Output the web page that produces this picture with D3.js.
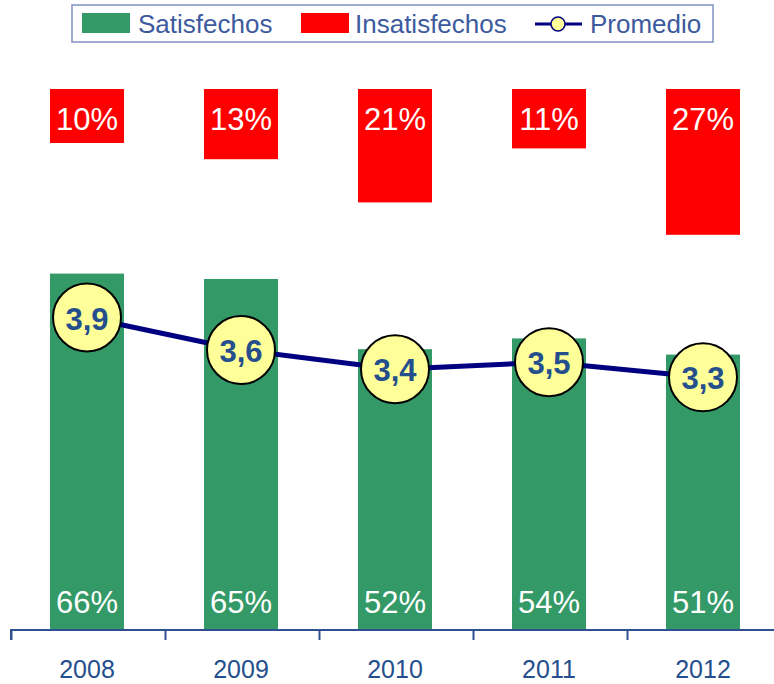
<!DOCTYPE html>
<html>
<head>
<meta charset="utf-8">
<script src="https://d3js.org/d3.v7.min.js"></script>
<style>
  body { margin: 0; background: #fff; }
  svg { display: block; font-family: "Liberation Sans", Arial, sans-serif; }
</style>
</head>
<body>
<div id="chart"></div>
<script>
// chart data
const years = ['2008', '2009', '2010', '2011', '2012'];
const satisfechos = [66, 65, 52, 54, 51];
const insatisfechos = [10, 13, 21, 11, 27];
const promedio = [3.91, 3.59, 3.40, 3.47, 3.32];

const width = 774, height = 684;
const axisY = 630;

const svg = d3.select('#chart').append('svg')
    .attr('width', width)
    .attr('height', height);

// scales
const band = (781 - 11) / years.length;
const center = d => 10 + band * (years.indexOf(d) + 0.5);

const y = d3.scaleLinear().domain([0, 100]).range([axisY, 90]);
const yTop = d3.scaleLinear().domain([0, 100]).range([89, 629]);
const y2 = d3.scaleLinear().domain([3, 4]).range([409.8, 308.4]);

const fmt = v => d3.format('.1f')(v).replace('.', ',');

// green bars
svg.selectAll('.sat')
    .data(years)
    .enter()
    .append('rect')
    .attr('class', 'sat')
    .attr('x', d => center(d) - 37)
    .attr('width', 74)
    .attr('y', (d, i) => y(satisfechos[i]))
    .attr('height', (d, i) => axisY - y(satisfechos[i]))
    .attr('fill', '#339966');

svg.selectAll('.sat-label')
    .data(years)
    .enter()
    .append('text')
    .attr('x', d => center(d))
    .attr('y', axisY - 17)
    .attr('text-anchor', 'middle')
    .attr('font-size', '31px')
    .attr('fill', '#fff')
    .text((d, i) => `${satisfechos[i]}%`);

// red bars hanging from the top
svg.selectAll('.insat')
    .data(years)
    .enter()
    .append('rect')
    .attr('class', 'insat')
    .attr('x', d => center(d) - 37)
    .attr('width', 74)
    .attr('y', yTop(0))
    .attr('height', (d, i) => yTop(insatisfechos[i]) - yTop(0))
    .attr('fill', '#ff0000');

svg.selectAll('.insat-label')
    .data(years)
    .enter()
    .append('text')
    .attr('x', d => center(d))
    .attr('y', 130)
    .attr('text-anchor', 'middle')
    .attr('font-size', '31px')
    .attr('fill', '#fff')
    .text((d, i) => `${insatisfechos[i]}%`);

// x axis
const xAxis = d3.axisBottom(d3.scaleLinear().domain([0, 5]).range([11, 781]))
    .ticks(5)
    .tickSize(10)
    .tickFormat('');

svg.append('g')
    .attr('transform', `translate(0,${axisY})`)
    .call(xAxis)
    .call(g => g.select('.domain').attr('stroke', '#2f5090').attr('stroke-width', 2).attr('d', 'M11,10V0H781'))
    .call(g => g.selectAll('.tick line').attr('stroke', '#2f5090').attr('stroke-width', 2));

svg.selectAll('.year')
    .data(years)
    .enter()
    .append('text')
    .attr('x', d => center(d))
    .attr('y', 678)
    .attr('text-anchor', 'middle')
    .attr('font-size', '25px')
    .attr('fill', '#254f8c')
    .text(d => d);

// average line
const line = d3.line()
    .x((d, i) => center(years[i]))
    .y(d => y2(d));

svg.append('path')
    .datum(promedio)
    .attr('d', line)
    .attr('fill', 'none')
    .attr('stroke', '#000080')
    .attr('stroke-width', 5);

svg.selectAll('.dot')
    .data(promedio)
    .enter()
    .append('circle')
    .attr('cx', (d, i) => center(years[i]))
    .attr('cy', d => y2(d))
    .attr('r', 34)
    .attr('fill', '#ffff99')
    .attr('stroke', '#000')
    .attr('stroke-width', 2);

svg.selectAll('.dot-label')
    .data(promedio)
    .enter()
    .append('text')
    .attr('x', (d, i) => center(years[i]))
    .attr('y', d => y2(d) + 12)
    .attr('text-anchor', 'middle')
    .attr('font-size', '31px')
    .attr('font-weight', 'bold')
    .attr('fill', '#254f8c')
    .text(d => fmt(d));

// legend
const legend = svg.append('g');
legend.append('rect')
    .attr('x', 72).attr('y', 5)
    .attr('width', 641).attr('height', 37)
    .attr('fill', '#fff')
    .attr('stroke', '#8090c0')
    .attr('stroke-width', 1.5);

legend.append('rect').attr('x', 82).attr('y', 13).attr('width', 48).attr('height', 20).attr('fill', '#339966');
legend.append('text').attr('x', 138).attr('y', 33).attr('font-size', '26px').attr('fill', '#3d5a9e').text('Satisfechos');

legend.append('rect').attr('x', 301).attr('y', 13).attr('width', 48).attr('height', 20).attr('fill', '#ff0000');
legend.append('text').attr('x', 355).attr('y', 33).attr('font-size', '26px').attr('fill', '#3d5a9e').text('Insatisfechos');

legend.append('line').attr('x1', 535).attr('x2', 582).attr('y1', 24).attr('y2', 24).attr('stroke', '#000080').attr('stroke-width', 3);
legend.append('circle').attr('cx', 558).attr('cy', 24).attr('r', 7).attr('fill', '#ffff99').attr('stroke', '#000080').attr('stroke-width', 1.5);
legend.append('text').attr('x', 590).attr('y', 33).attr('font-size', '26px').attr('fill', '#3d5a9e').text('Promedio');
</script>
</body>
</html>
